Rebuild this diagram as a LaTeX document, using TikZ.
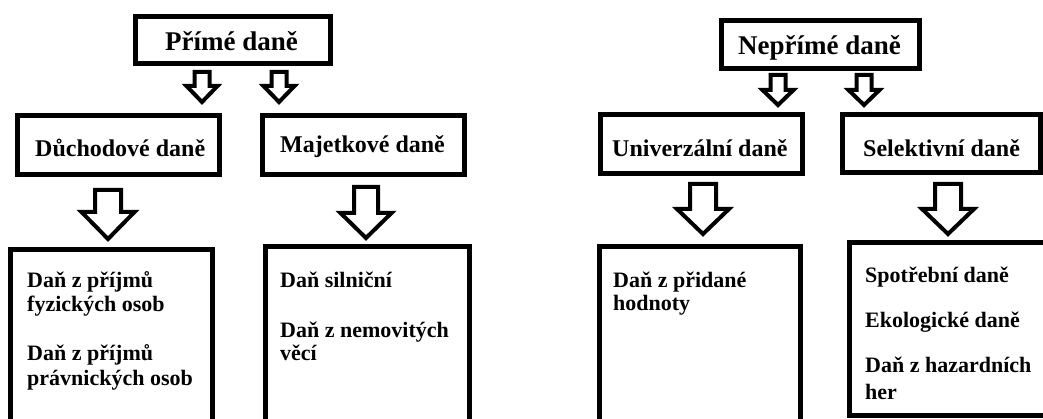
\documentclass[tikz,border=0pt]{standalone}
\usepackage{fontspec}
\setmainfont{Liberation Serif}
\begin{document}
\begin{tikzpicture}[x=1pt,y=-1pt,
  box/.style={draw=black,line width=5pt,fill=white,inner sep=0pt,outer sep=0pt},
  ttl/.style={font=\fontsize{27}{30}\selectfont\bfseries,inner sep=0pt,anchor=base west},
  mid/.style={font=\fontsize{24}{27}\selectfont\bfseries,inner sep=0pt,anchor=base west},
  low/.style={font=\fontsize{22}{24}\selectfont\bfseries,inner sep=0pt,anchor=base west},
  barrow/.style={draw=black,line width=4pt,fill=white,line join=miter}]
\useasboundingbox (0,0) rectangle (1043,419);
\clip (0,0) rectangle (1043,419);
\fill[white] (0,0) rectangle (1043,419);
\newcommand{\blockarrow}[7]{%
  \coordinate (#1) at (#2,#3);
  \draw[barrow] (#2-#4,#3) -- (#2+#4,#3) -- (#2+#4,#5) -- (#2+#6,#5) -- (#2,#7)
     -- (#2-#6,#5) -- (#2-#4,#5) -- cycle;}
% boxes
\node[box,minimum width=195pt,minimum height=47pt] (P) at (233,40) {};
\node[box,minimum width=198pt,minimum height=48pt] (N) at (820.5,44.5) {};
\node[box,minimum width=202pt,minimum height=59pt] (D) at (118.5,145) {};
\node[box,minimum width=202pt,minimum height=59pt] (M) at (363.5,145) {};
\node[box,minimum width=202pt,minimum height=59pt] (U) at (701.5,144) {};
\node[box,minimum width=198pt,minimum height=58pt] (S) at (941.5,143.5) {};
\node[box,minimum width=202pt,minimum height=190pt] (B1) at (111.5,344.5) {};
\node[box,minimum width=204pt,minimum height=194pt] (B2) at (367.5,343.5) {};
\node[box,minimum width=201pt,minimum height=194pt] (B3) at (700,343.5) {};
\node[box,minimum width=211pt,minimum height=173pt] (B4) at (955,329) {};
% titles
\node[ttl] (tP) at (165,51) {Přímé daně};
\node[ttl] (tN) at (738,55) {Nepřímé daně};
\node[mid] (tD) at (35,157) {Důchodové daně};
\node[mid] (tM) at (280,153) {Majetkové daně};
\node[mid] (tU) at (612,157) {Univerzální daně};
\node[mid] (tS) at (863,157) {Selektivní daně};
% bottom texts
\node[low] (a1) at (27,288) {Daň z příjmů};
\node[low] (a2) at (27,312) {fyzických osob};
\node[low] (a3) at (27,360) {Daň z příjmů};
\node[low] (a4) at (27,385) {právnických osob};
\node[low] (b1) at (280,288) {Daň silniční};
\node[low] (b2) at (280,337) {Daň z nemovitých};
\node[low] (b3) at (280,360) {věcí};
\node[low] (c1) at (613,288) {Daň z přidané};
\node[low] (c2) at (613,311) {hodnoty};
\node[low] (d1) at (865,283) {Spotřební daně};
\node[low] (d2) at (865,327) {Ekologické daně};
\node[low] (d3) at (865,372) {Daň z hazardních};
\node[low] (d4) at (865,399) {her};
% block arrows
\blockarrow{arPD}{202}{72}{7.5}{86}{15.5}{102}
\blockarrow{arPM}{279}{72}{7.5}{86}{15.5}{102}
\blockarrow{arNU}{778}{75}{7.5}{90}{15.5}{105}
\blockarrow{arNS}{864}{75}{7.5}{90}{15.5}{105}
\blockarrow{arD}{108}{190}{13}{212}{26.5}{239}
\blockarrow{arM}{366}{187}{12}{213}{25.5}{238}
\blockarrow{arU}{703}{184}{13}{209}{26}{234}
\blockarrow{arS}{948}{184}{13}{209}{26}{234}
\end{tikzpicture}
\end{document}
